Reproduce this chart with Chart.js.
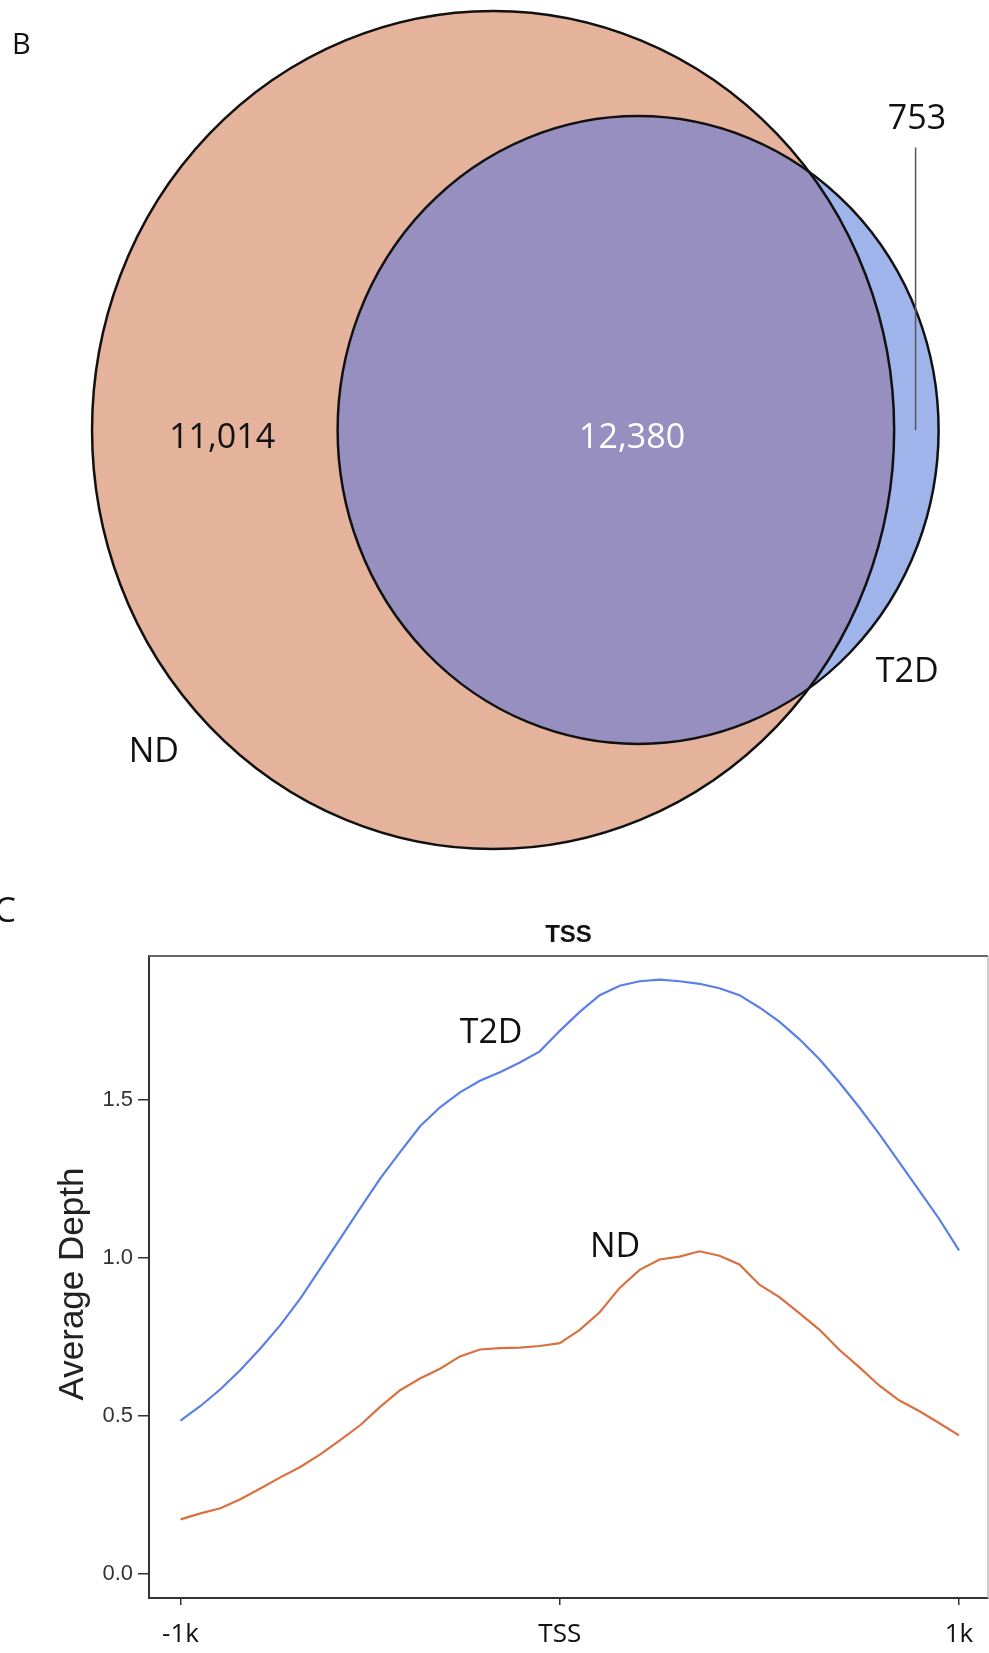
<!DOCTYPE html>
<html>
<head>
<meta charset="utf-8">
<script src="https://cdn.jsdelivr.net/npm/chart.js@4.4.1/dist/chart.umd.min.js"></script>
<style>
  body { margin: 0; background: #fff; }
  canvas { display: block; }
</style>
</head>
<body>
<canvas id="vennChart" width="989" height="880"></canvas>
<canvas id="depthChart" width="989" height="773"></canvas>
<script>
// panel B - peak overlap counts
const vennSets = ['ND', 'T2D'];
const vennOnly = [11014, 753];
const vennShared = 12380;

// panel C - average depth around TSS, 40 bins from -1k to 1k
const binTickPos = [0, 19, 39];
const binTickLabels = ['-1k', 'TSS', '1k'];
const yTicks = [0, 0.5, 1.0, 1.5];
const t2dDepth = [0.485, 0.531, 0.584, 0.645, 0.713, 0.787, 0.871, 0.966, 1.061, 1.157,
    1.251, 1.335, 1.417, 1.477, 1.524, 1.561, 1.588, 1.619, 1.654, 1.719,
    1.779, 1.832, 1.862, 1.876, 1.881, 1.876, 1.868, 1.854, 1.832, 1.793,
    1.748, 1.693, 1.630, 1.556, 1.477, 1.393, 1.303, 1.214, 1.124, 1.024];
const ndDepth = [0.172, 0.191, 0.207, 0.236, 0.270, 0.305, 0.338, 0.378, 0.423, 0.470,
    0.528, 0.581, 0.618, 0.649, 0.688, 0.710, 0.714, 0.716, 0.721, 0.730,
    0.772, 0.828, 0.905, 0.962, 0.995, 1.004, 1.021, 1.007, 0.979, 0.915,
    0.876, 0.825, 0.773, 0.709, 0.654, 0.596, 0.549, 0.515, 0.477, 0.438];

const lensArea = (r1, r2, d) => {
    if (d >= r1 + r2) return 0;
    if (d <= Math.abs(r1 - r2)) return Math.PI * Math.min(r1, r2) ** 2;
    const a = r1 * r1 * Math.acos((d * d + r1 * r1 - r2 * r2) / (2 * d * r1));
    const b = r2 * r2 * Math.acos((d * d + r2 * r2 - r1 * r1) / (2 * d * r2));
    const c = 0.5 * Math.sqrt((-d + r1 + r2) * (d + r1 - r2) * (d - r1 + r2) * (d + r1 + r2));
    return a + b - c;
}

const solveDistance = (r1, r2, target) => {
    let lo = Math.abs(r1 - r2), hi = r1 + r2;
    for (let i = 0; i < 60; i++) {
        const mid = (lo + hi) / 2;
        if (lensArea(r1, r2, mid) > target) lo = mid; else hi = mid;
    }
    return (lo + hi) / 2;
}

const totals = vennOnly.map(v => v + vennShared);
const radii = totals.map(t => Math.sqrt(t / Math.PI));
const gap = solveDistance(radii[0], radii[1], vennShared);
const centers = [{x: 0, y: 0}, {x: gap, y: 0}];
const fmt = n => n.toLocaleString('en-US');

// text anchors in venn units
const vennText = [
    {text: fmt(vennOnly[0]), x: -58.3, y: -3.7, color: '#111'},
    {text: fmt(vennShared), x: gap - 1.3, y: -3.7, color: '#fff'},
    {text: fmt(vennOnly[1]), x: 91.2, y: 61.9, color: '#111'},
    {text: vennSets[1], x: 89.1, y: -51.9, color: '#111'},
    {text: vennSets[0], x: -73.0, y: -68.4, color: '#111'},
];

const vennPlugin = {
    id: 'vennShapes',
    beforeDatasetsDraw(chart) {
        const {ctx, scales: {x, y}} = chart;
        const ell = centers.map((c, i) => ({
            cx: x.getPixelForValue(c.x),
            cy: y.getPixelForValue(c.y),
            rx: x.getPixelForValue(c.x + radii[i]) - x.getPixelForValue(c.x),
            ry: y.getPixelForValue(c.y) - y.getPixelForValue(c.y + radii[i])
        }));
        const path = e => {
            ctx.beginPath();
            ctx.ellipse(e.cx, e.cy, e.rx, e.ry, 0, 0, Math.PI * 2);
        };
        ctx.save();
        path(ell[0]); ctx.fillStyle = '#e5b39c'; ctx.fill();
        path(ell[1]); ctx.fillStyle = '#a0b4ec'; ctx.fill();
        ctx.save();
        path(ell[0]); ctx.clip();
        path(ell[1]); ctx.fillStyle = '#968fbf'; ctx.fill();
        ctx.restore();
        ctx.lineWidth = 2.5;
        ctx.strokeStyle = '#111';
        path(ell[0]); ctx.stroke();
        path(ell[1]); ctx.stroke();

        // leader line for the small T2D-only count
        ctx.strokeStyle = '#555';
        ctx.lineWidth = 1.5;
        ctx.beginPath();
        ctx.moveTo(x.getPixelForValue(90.9), y.getPixelForValue(58.2));
        ctx.lineTo(x.getPixelForValue(90.9), y.getPixelForValue(0));
        ctx.stroke();

        ctx.font = '34px "Open Sans"';
        ctx.textAlign = 'center';
        ctx.textBaseline = 'alphabetic';
        vennText.forEach(t => {
            ctx.fillStyle = t.color;
            ctx.fillText(t.text, x.getPixelForValue(t.x), y.getPixelForValue(t.y));
        });
        ctx.font = '29px "Open Sans"';
        ctx.textAlign = 'left';
        ctx.fillStyle = '#111';
        ctx.fillText('B', 12, 54);
        ctx.restore();
    }
};

new Chart(document.getElementById('vennChart'), {
    type: 'scatter',
    data: {datasets: [{data: centers, pointRadius: 0}]},
    options: {
        responsive: false,
        animation: false,
        devicePixelRatio: 1,
        layout: {padding: 0},
        plugins: {legend: {display: false}, tooltip: {enabled: false}},
        scales: {
            x: {display: false, min: -106.1, max: 106.7},
            y: {display: false, min: -92.67, max: 88.55}
        }
    },
    plugins: [vennPlugin]
});

const lineLabels = [
    {text: 'T2D', x: 15.56, y: 1.680},
    {text: 'ND', x: 21.77, y: 1.002},
];

const depthPlugin = {
    id: 'depthDecor',
    afterDraw(chart) {
        const {ctx, chartArea: a, scales: {x, y}} = chart;
        ctx.save();
        ctx.strokeStyle = '#666';
        ctx.lineWidth = 2;
        ctx.beginPath();
        ctx.moveTo(a.left, a.top);
        ctx.lineTo(a.right, a.top);
        ctx.stroke();
        ctx.strokeStyle = '#bbb';
        ctx.lineWidth = 1.5;
        ctx.beginPath();
        ctx.moveTo(a.right, a.top);
        ctx.lineTo(a.right, a.bottom);
        ctx.stroke();

        ctx.fillStyle = '#111';
        ctx.font = 'bold 24px "Liberation Sans"';
        ctx.textAlign = 'center';
        ctx.textBaseline = 'alphabetic';
        ctx.fillText('TSS', (a.left + a.right) / 2, 62);

        ctx.font = '34px "Open Sans"';
        lineLabels.forEach(l => {
            ctx.fillText(l.text, x.getPixelForValue(l.x), y.getPixelForValue(l.y));
        });

        ctx.textAlign = 'left';
        ctx.font = '35px "Open Sans"';
        ctx.fillText('C', -6, 42);

        ctx.translate(83, 404);
        ctx.rotate(-Math.PI / 2);
        ctx.textAlign = 'center';
        ctx.fillStyle = '#222';
        ctx.font = '35px "Liberation Sans"';
        ctx.fillText('Average Depth', 0, 0);
        ctx.restore();
    }
};

new Chart(document.getElementById('depthChart'), {
    type: 'line',
    data: {
        datasets: [{
            label: 'T2D',
            data: t2dDepth.map((v, i) => ({x: i, y: v})),
            borderColor: '#5a7fe6',
            borderWidth: 2.2,
            pointRadius: 0,
            tension: 0
        }, {
            label: 'ND',
            data: ndDepth.map((v, i) => ({x: i, y: v})),
            borderColor: '#d8703f',
            borderWidth: 2.2,
            pointRadius: 0,
            tension: 0
        }]
    },
    options: {
        responsive: false,
        animation: false,
        devicePixelRatio: 1,
        layout: {padding: {top: 76, right: 1, left: 0, bottom: 0}},
        plugins: {legend: {display: false}, tooltip: {enabled: false}},
        scales: {
            x: {
                type: 'linear',
                min: -1.578,
                max: 40.452,
                afterBuildTicks: s => { s.ticks = binTickPos.map(v => ({value: v})); },
                afterFit: s => { s.height = 55; },
                ticks: {
                    callback: (v, i) => binTickLabels[i],
                    font: {family: 'Open Sans', size: 26},
                    color: '#111',
                    padding: 14,
                    maxRotation: 0,
                    autoSkip: false
                },
                grid: {drawOnChartArea: false, tickLength: 7, color: '#333', lineWidth: 1.5},
                border: {color: '#333', width: 2}
            },
            y: {
                min: -0.077,
                max: 1.956,
                afterBuildTicks: s => { s.ticks = yTicks.map(v => ({value: v})); },
                afterFit: s => { s.width = 149; },
                ticks: {
                    callback: v => v.toFixed(1),
                    font: {family: 'Liberation Sans', size: 22},
                    color: '#333',
                    padding: 5
                },
                grid: {drawOnChartArea: false, tickLength: 11, color: '#333', lineWidth: 1.5},
                border: {color: '#333', width: 2}
            }
        }
    },
    plugins: [depthPlugin]
});
</script>
</body>
</html>
